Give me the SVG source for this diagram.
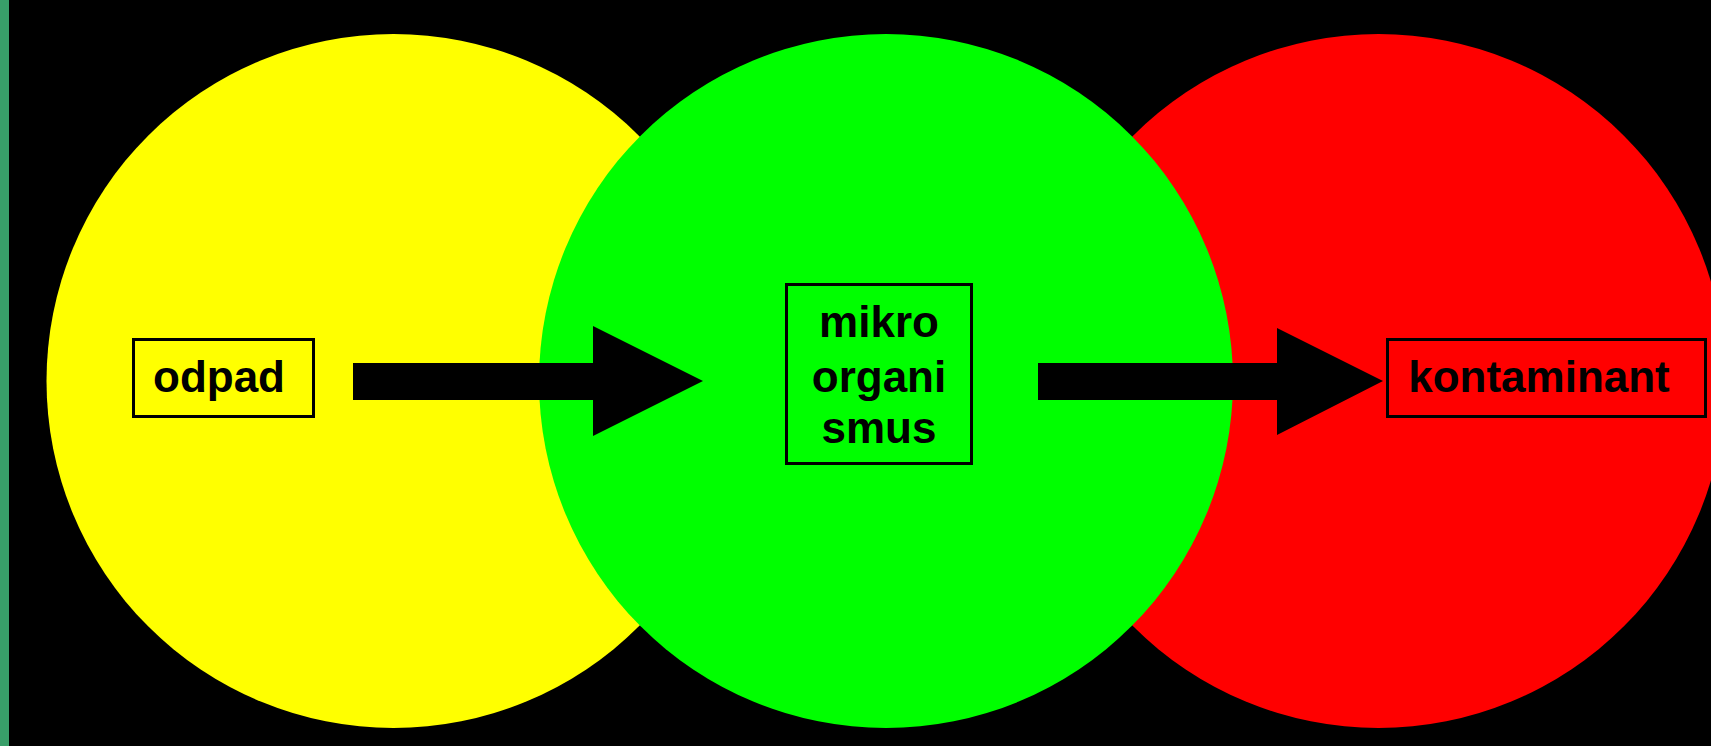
<svg xmlns="http://www.w3.org/2000/svg" width="1711" height="746" viewBox="0 0 1711 746">
  <style>
    .label { font-family: "Liberation Sans", Arial, sans-serif; font-size: 44px; font-weight: bold; fill: #000; text-anchor: middle; }
    .box { fill: none; stroke: #000; stroke-width: 3; }
    .arrow { fill: #000; }
  </style>
  <!-- background -->
  <rect x="0" y="0" width="1711" height="746" fill="#000"/>
  <rect x="0" y="0" width="9" height="746" fill="#389f69"/>

  <!-- stages -->
  <g id="stage-waste">
    <circle cx="393.5" cy="381" r="347" fill="#ffff00"/>
  </g>
  <g id="stage-contaminant">
    <circle cx="1378.5" cy="381" r="347" fill="#ff0000"/>
  </g>
  <g id="stage-microorganism">
    <circle cx="886" cy="381" r="347" fill="#00ff00"/>
  </g>

  <!-- connectors -->
  <g id="connectors">
    <polygon class="arrow" points="353,363 593,363 593,326 703,381 593,436 593,400 353,400"/>
    <polygon class="arrow" points="1038,363 1277,363 1277,328 1383,381 1277,435 1277,400 1038,400"/>
  </g>

  <!-- labels -->
  <g id="node-odpad">
    <rect class="box" x="133.5" y="339.5" width="180" height="77"/>
    <text class="label" x="219" y="392">odpad</text>
  </g>
  <g id="node-mikroorganismus">
    <rect class="box" x="786.5" y="284.5" width="185" height="179"/>
    <text class="label" x="879" y="337">mikro</text>
    <text class="label" x="879" y="392">organi</text>
    <text class="label" x="879" y="443">smus</text>
  </g>
  <g id="node-kontaminant">
    <rect class="box" x="1387.5" y="339.5" width="318" height="77"/>
    <text class="label" x="1539" y="392">kontaminant</text>
  </g>
</svg>
